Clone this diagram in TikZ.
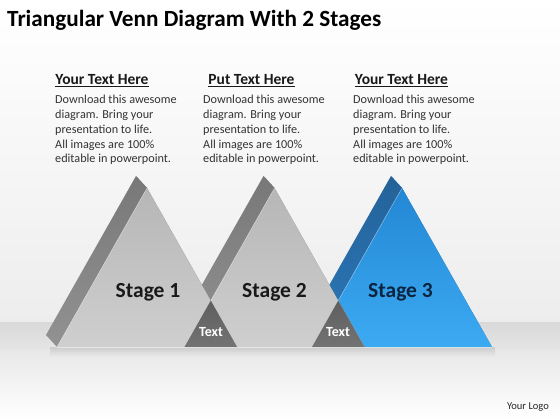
\documentclass[tikz,border=0pt]{standalone}
\usepackage{fontspec}
\setmainfont{Carlito}
\definecolor{grayfront1}{HTML}{B6B6B6}
\definecolor{grayfront2}{HTML}{CFCFCF}
\definecolor{graystrip}{HTML}{929292}
\definecolor{graycap}{HTML}{767676}
\definecolor{bluefront1}{HTML}{2387D4}
\definecolor{bluefront2}{HTML}{3CAAF3}
\definecolor{bluestrip}{HTML}{2C78BA}
\definecolor{bluecap}{HTML}{1D5E98}
\definecolor{darktri1}{HTML}{737373}
\definecolor{darktri2}{HTML}{5E5E5E}
\definecolor{bodycol}{HTML}{333333}
\definecolor{stage3col}{HTML}{0B2540}
\newcommand\drawprism[6]{%
  \fill[#3] (#1+79,176) -- (#1+90,188) -- (#1+180,347) -- (#1+169,335) -- cycle;
  \shade[top color=#2!82!black, bottom color=#2] (#1-11,335) -- (#1+79,176) -- (#1+90,188) -- (#1,347) -- cycle;
  \shade[top color=#4, bottom color=#5] (#1,347) -- (#1+180,347) -- (#1+90,188) -- cycle;
  \draw[white, opacity=0.35, line width=0.6pt] (#1,347) -- (#1+90,188);
  \draw[white, opacity=0.5, line width=0.8pt] (#1,347) -- (#1+180,347);
}
\newcommand\drawoverlap[2]{%
  \shade[top color=darktri2, bottom color=darktri1] (#1,347) -- (#2,347) -- ({(#1+#2)/2},{347-((#2-#1)/2)*159/90}) -- cycle;
}
\tikzset{
  titletext/.style={font=\fontsize{23.2}{28}\selectfont\bfseries, text=black, inner sep=0pt},
  hdrtext/.style={font=\fontsize{15.5}{18}\selectfont\bfseries, text=black!90, inner sep=0pt},
  bodytext/.style={font=\fontsize{12.2}{14.8}\selectfont, text=bodycol, align=left, inner sep=0pt},
  stagetext/.style={font=\fontsize{21.5}{24}\selectfont\bfseries, inner sep=0pt},
  smalltext/.style={font=\fontsize{14}{16}\selectfont\bfseries, text=white, inner sep=0pt},
  logotext/.style={font=\fontsize{10.5}{12}\selectfont, text=black!85, inner sep=0pt}
}
\begin{document}
\begin{tikzpicture}[x=1pt,y=-1pt]
\useasboundingbox (0,0) rectangle (560,420);
% background
\shade[top color=white, bottom color=black!7] (0,0) rectangle (560,322);
\shade[top color=black!15, bottom color=black!10] (0,322) rectangle (560,350);
\shade[top color=black!9, bottom color=white] (0,350) rectangle (560,420);
\shade[top color=black!20, bottom color=black!9] (50,347) rectangle (495,356);
% prisms, back to front
\drawprism{312}{bluestrip}{bluecap}{bluefront1}{bluefront2}{}
\drawprism{184.5}{graystrip}{graycap}{grayfront1}{grayfront2}{}
\drawprism{57}{graystrip}{graycap}{grayfront1}{grayfront2}{}
% overlaps
\drawoverlap{184.5}{237}
\drawoverlap{312}{364.5}
% texts
\node[titletext, anchor=base west] (title) at (7,27) {Triangular Venn Diagram With 2 Stages};
\node[hdrtext] (h1) at (102,81) {\underline{Your Text Here}};
\node[hdrtext] (h2) at (251.5,81) {\underline{Put Text Here}};
\node[hdrtext] (h3) at (401.5,81) {\underline{Your Text Here}};
\node[bodytext, anchor=north west] (b1) at (55,95) {Download this awesome\\diagram. Bring your\\presentation to life.\\All images are 100\%\\editable in powerpoint.};
\node[bodytext, anchor=north west] (b2) at (203,95) {Download this awesome\\diagram. Bring your\\presentation to life.\\All images are 100\%\\editable in powerpoint.};
\node[bodytext, anchor=north west] (b3) at (353,95) {Download this awesome\\diagram. Bring your\\presentation to life.\\All images are 100\%\\editable in powerpoint.};
\node[stagetext, text=black!90] (s1) at (148,292) {Stage 1};
\node[stagetext, text=black!90] (s2) at (274.5,292) {Stage 2};
\node[stagetext, text=stage3col] (s3) at (400.5,292) {Stage 3};
\node[smalltext] (t1) at (211,332) {Text};
\node[smalltext] (t2) at (338,332) {Text};
\node[logotext] (logo) at (528,407) {Your Logo};
\end{tikzpicture}
\end{document}
